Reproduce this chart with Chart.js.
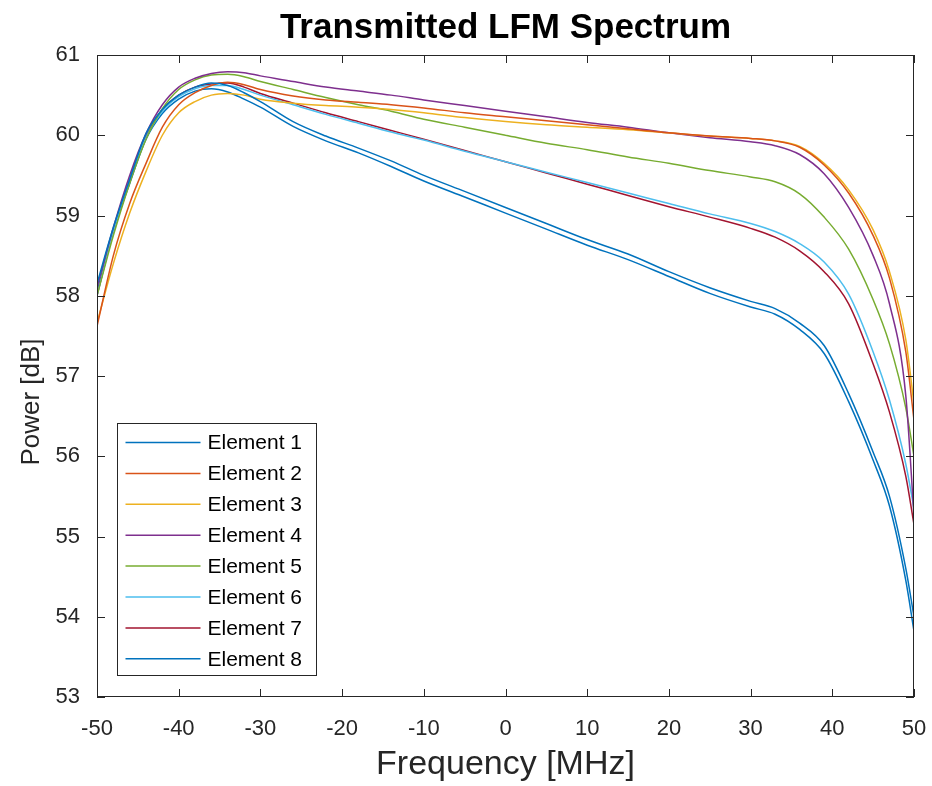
<!DOCTYPE html>
<html>
<head>
<meta charset="utf-8">
<script src="https://cdn.jsdelivr.net/npm/chart.js@4"></script>
<style>
  html, body { margin: 0; padding: 0; background: #fff; }
  #wrap { width: 932px; height: 786px; }
</style>
</head>
<body>
<div id="wrap"><canvas id="spectrum" width="932" height="786"></canvas></div>
<script>
// frequency samples, MHz
const freq = [-50, -48, -46, -44, -42, -40, -38, -36, -34, -32, -30, -26, -22, -18, -14, -10, -5, 0, 5, 10, 15, 20, 25, 30, 33, 36, 39, 42, 45, 47, 49, 50];

// power per element, dB
const elem1 = [58.15, 58.85, 59.45, 60.02, 60.32, 60.5, 60.6, 60.65, 60.62, 60.53, 60.42, 60.17, 59.99, 59.84, 59.68, 59.5, 59.3, 59.1, 58.9, 58.7, 58.52, 58.3, 58.1, 57.93, 57.84, 57.66, 57.38, 56.78, 56.05, 55.5, 54.6, 54.0];
const elem2 = [57.62, 58.5, 59.15, 59.65, 60.1, 60.38, 60.53, 60.62, 60.66, 60.63, 60.57, 60.49, 60.44, 60.41, 60.38, 60.34, 60.28, 60.23, 60.18, 60.13, 60.08, 60.03, 59.99, 59.96, 59.93, 59.85, 59.63, 59.28, 58.75, 58.22, 57.3, 56.45];
const elem3 = [57.66, 58.4, 59.03, 59.55, 60.0, 60.28, 60.42, 60.5, 60.52, 60.5, 60.45, 60.4, 60.37, 60.35, 60.32, 60.28, 60.22, 60.17, 60.13, 60.1, 60.07, 60.03, 59.99, 59.96, 59.93, 59.86, 59.65, 59.32, 58.82, 58.3, 57.45, 56.65];
const elem4 = [58.1, 58.85, 59.5, 60.02, 60.38, 60.6, 60.71, 60.77, 60.79, 60.78, 60.74, 60.67, 60.6, 60.55, 60.5, 60.44, 60.37, 60.3, 60.23, 60.16, 60.1, 60.03, 59.97, 59.92, 59.87, 59.76, 59.52, 59.1, 58.5, 57.9, 56.75, 55.25];
const elem5 = [58.0, 58.75, 59.4, 59.95, 60.33, 60.57, 60.69, 60.75, 60.76, 60.73, 60.67, 60.57, 60.47, 60.38, 60.3, 60.2, 60.1, 60.0, 59.9, 59.82, 59.73, 59.65, 59.56, 59.48, 59.42, 59.27, 58.98, 58.58, 57.95, 57.4, 56.6, 56.0];
const elem6 = [58.0, 58.8, 59.45, 59.97, 60.3, 60.48, 60.58, 60.62, 60.62, 60.57, 60.5, 60.38, 60.26, 60.15, 60.04, 59.94, 59.8, 59.67, 59.54, 59.41, 59.28, 59.15, 59.02, 58.9, 58.8, 58.65, 58.42, 58.02, 57.3, 56.7, 55.9, 55.35];
const elem7 = [58.0, 58.8, 59.45, 59.98, 60.32, 60.5, 60.6, 60.64, 60.65, 60.6, 60.52, 60.4, 60.28, 60.17, 60.06, 59.95, 59.81, 59.67, 59.53, 59.39, 59.25, 59.11, 58.98, 58.84, 58.73, 58.56, 58.3, 57.9, 57.15, 56.55, 55.75, 55.15];
const elem8 = [58.05, 58.8, 59.4, 59.95, 60.27, 60.45, 60.55, 60.58, 60.54, 60.45, 60.35, 60.11, 59.93, 59.78, 59.61, 59.43, 59.23, 59.03, 58.83, 58.63, 58.45, 58.24, 58.03, 57.86, 57.77, 57.58, 57.28, 56.68, 55.95, 55.38, 54.45, 53.82];

const seriesNames = ['Element 1', 'Element 2', 'Element 3', 'Element 4', 'Element 5', 'Element 6', 'Element 7', 'Element 8'];
const seriesValues = [elem1, elem2, elem3, elem4, elem5, elem6, elem7, elem8];
const seriesColors = ['#0072BD', '#D95319', '#EDB120', '#7E2F8E', '#77AC30', '#4DBEEE', '#A2142F', '#0072BD'];

const titleText = 'Transmitted LFM Spectrum';
const yLabelText = 'Power [dB]';

const axisColor = '#262626';
const fontFamily = 'Arial, "Liberation Sans", Helvetica, sans-serif';

// MATLAB-ish axes: box, inward ticks on all sides, title, y label, legend in lower left
const matlabAxes = {
  id: 'matlabAxes',
  afterDraw(chart) {
    const ctx = chart.ctx;
    const a = chart.chartArea;
    const xs = chart.scales.x, ys = chart.scales.y;
    const tl = 8;
    ctx.save();
    ctx.strokeStyle = axisColor;
    ctx.lineWidth = 1;
    ctx.beginPath();
    xs.ticks.forEach(t => {
      const px = Math.round(xs.getPixelForValue(t.value)) + 0.5;
      ctx.moveTo(px, a.bottom); ctx.lineTo(px, a.bottom - tl);
      ctx.moveTo(px, a.top); ctx.lineTo(px, a.top + tl);
    });
    ys.ticks.forEach(t => {
      const py = Math.round(ys.getPixelForValue(t.value)) + 0.5;
      ctx.moveTo(a.left, py); ctx.lineTo(a.left + tl, py);
      ctx.moveTo(a.right, py); ctx.lineTo(a.right - tl, py);
    });
    ctx.stroke();
    ctx.strokeRect(Math.round(a.left) + 0.5, Math.round(a.top) + 0.5, Math.round(a.width) - 1, Math.round(a.height) - 1);

    // title, centred over the axes
    ctx.fillStyle = '#000';
    ctx.font = 'bold 35px ' + fontFamily;
    ctx.textAlign = 'center';
    ctx.textBaseline = 'middle';
    ctx.fillText(titleText, (a.left + a.right) / 2, 28);

    // y label (sits a bit below the axes centre in the original)
    ctx.save();
    ctx.translate(32, (a.top + a.bottom) / 2 + 26);
    ctx.rotate(-Math.PI / 2);
    ctx.fillStyle = axisColor;
    ctx.font = '26px ' + fontFamily;
    ctx.fillText(yLabelText, 0, 0);
    ctx.restore();

    // legend
    const bx = Math.round(a.left) + 20.5, bw = 199;
    const bh = 252, by = Math.round(a.bottom) - 21.5 - bh;
    ctx.fillStyle = '#fff';
    ctx.fillRect(bx, by, bw, bh);
    ctx.strokeStyle = axisColor;
    ctx.lineWidth = 1;
    ctx.strokeRect(bx, by, bw, bh);
    const rowH = 30.9;
    ctx.font = '21px ' + fontFamily;
    ctx.textBaseline = 'middle';
    ctx.textAlign = 'left';
    chart.data.datasets.forEach((ds, i) => {
      const ry = by + 19 + i * rowH;
      ctx.strokeStyle = ds.borderColor;
      ctx.lineWidth = 1.5;
      ctx.beginPath();
      ctx.moveTo(bx + 8, ry); ctx.lineTo(bx + 83, ry);
      ctx.stroke();
      ctx.fillStyle = '#000';
      ctx.fillText(ds.label, bx + 90, ry + 1);
    });
    ctx.restore();
  }
};

new Chart(document.getElementById('spectrum'), {
  type: 'line',
  data: {
    datasets: seriesNames.map((name, i) => ({
      label: name,
      data: freq.map((f, k) => ({x: f, y: seriesValues[i][k]})),
      borderColor: seriesColors[i],
      backgroundColor: seriesColors[i],
      borderWidth: 1.5,
      pointRadius: 0,
      cubicInterpolationMode: 'monotone',
      fill: false
    }))
  },
  options: {
    responsive: false,
    animation: false,
    layout: { padding: { left: 0, right: 18, top: 55, bottom: 0 } },
    plugins: {
      legend: { display: false },
      tooltip: { enabled: false },
      title: { display: false }
    },
    scales: {
      x: {
        type: 'linear',
        min: -50, max: 50,
        ticks: { stepSize: 10, color: axisColor, padding: 11, maxRotation: 0, font: { family: fontFamily, size: 22 } },
        grid: { display: false },
        border: { display: false },
        title: {
          display: true,
          text: 'Frequency [MHz]',
          color: axisColor,
          font: { family: fontFamily, size: 34, lineHeight: 1.2 },
          padding: { top: 0, bottom: 1 }
        },
        afterFit(s) {
          s.height = 89;
          s.paddingLeft = 0;
          s.paddingRight = 0;
        }
      },
      y: {
        min: 53, max: 61,
        ticks: { stepSize: 1, color: axisColor, padding: 9, font: { family: fontFamily, size: 22 } },
        grid: { display: false },
        border: { display: false },
        afterFit(s) {
          s.width = 97;
          s.paddingTop = 0;
          s.paddingBottom = 0;
        }
      }
    }
  },
  plugins: [matlabAxes]
});
</script>
</body>
</html>
